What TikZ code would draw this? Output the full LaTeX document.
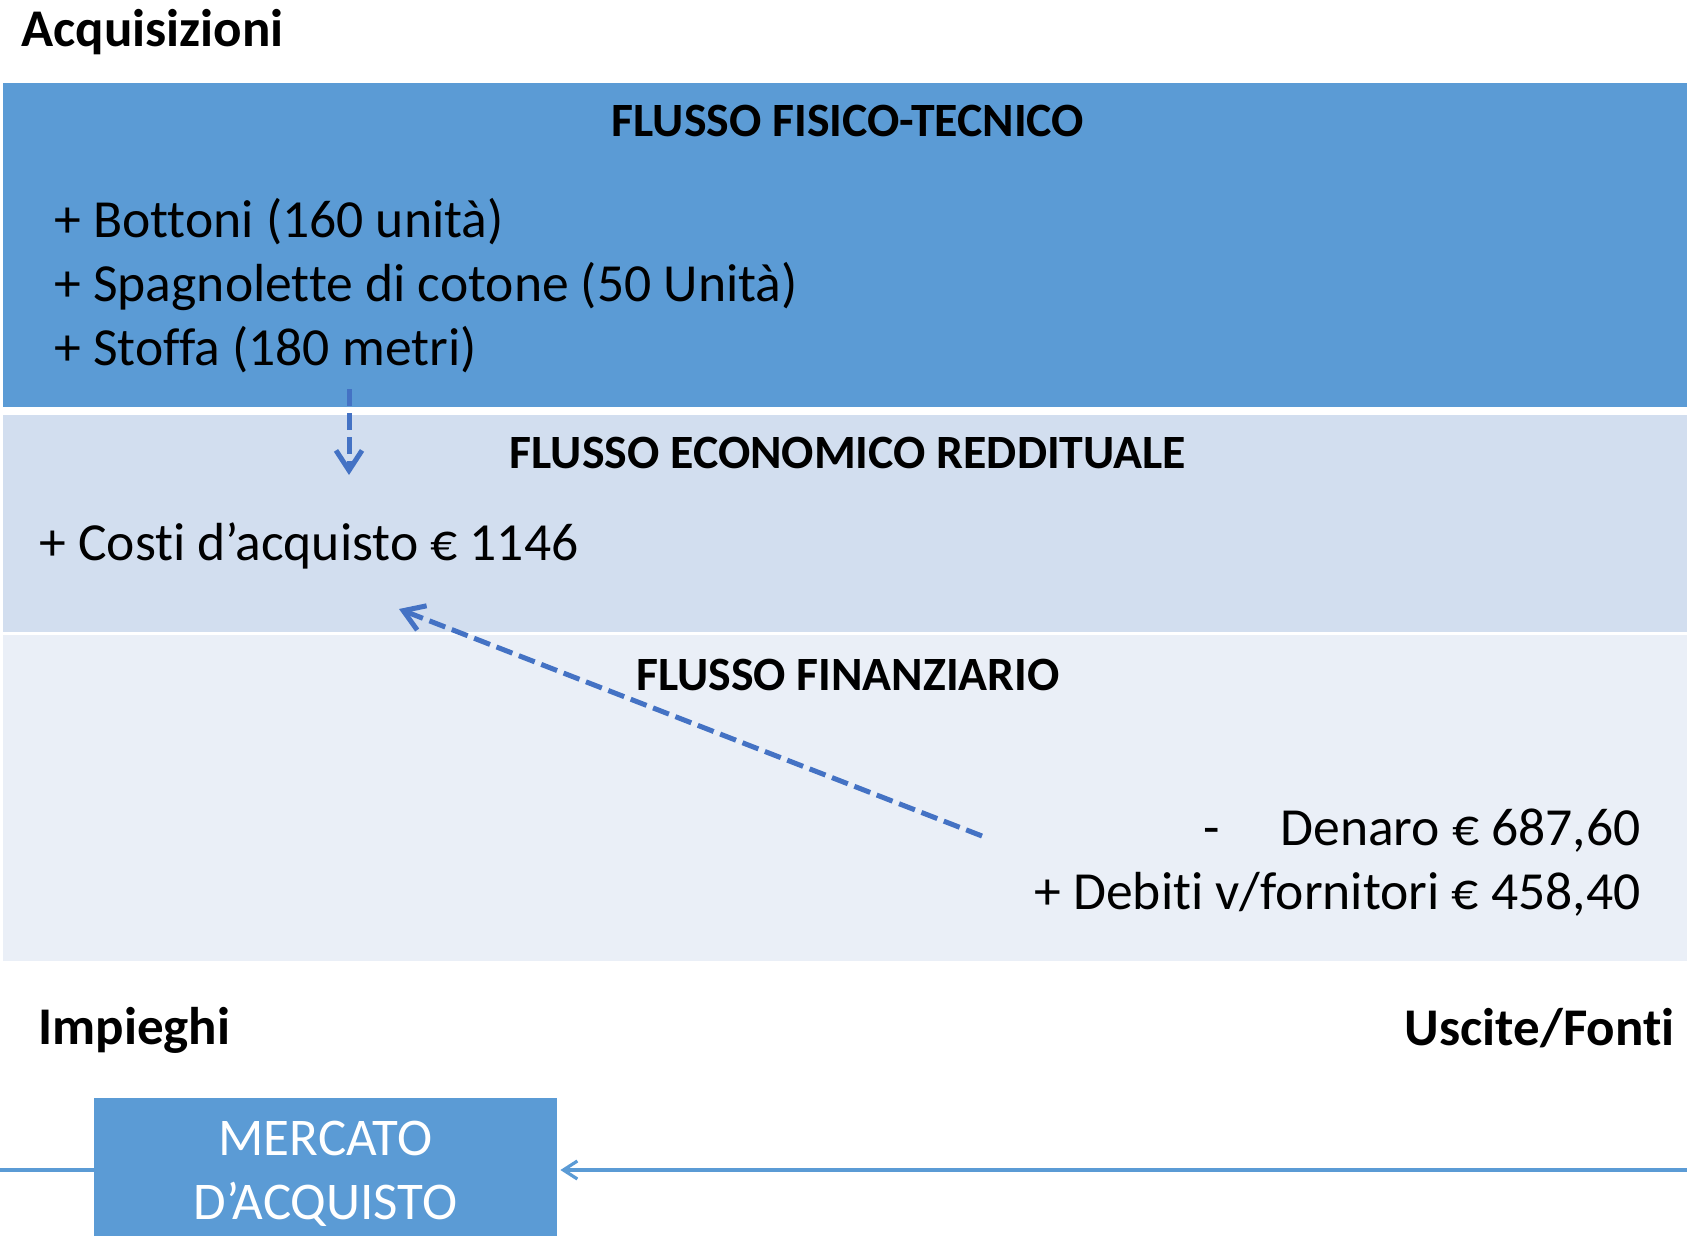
\documentclass[tikz,border=0pt]{standalone}
\usepackage{fontspec}
\setmainfont{Carlito}[Ligatures=NoCommon]
\usetikzlibrary{arrows.meta,positioning}
\definecolor{accentblue}{HTML}{5B9BD5}
\definecolor{bandmid}{HTML}{D2DEEF}
\definecolor{bandlight}{HTML}{EAEFF7}
\definecolor{arrowblue}{HTML}{4472C4}
\begin{document}
\begin{tikzpicture}[x=0.5pt, y=-0.5pt,
  body/.style={inner sep=0pt, font=\fontsize{26.8}{32}\selectfont},
  title/.style={inner sep=0pt, font=\fontsize{26.5}{32}\selectfont\bfseries},
  head/.style={inner sep=0pt, anchor=base, font=\fontsize{23.9}{28}\selectfont\bfseries},
  market/.style={fill=accentblue, text=white, inner sep=0pt, align=center, minimum width=231.5pt, minimum height=76pt, font=\fontsize{26.5}{32}\selectfont},
  flow/.style={draw=arrowblue, line width=2.5pt, dash pattern=on 8.5pt off 3.5pt, -{Straight Barb[length=10pt,width=13pt]}},
  market line/.style={draw=accentblue, line width=1.6pt}]
  \useasboundingbox (0,0) rectangle (1687,1236);
  \fill[accentblue] (3,83) rectangle (1687,407);
  \fill[bandmid] (3,415) rectangle (1687,632);
  \fill[bandlight] (3,635) rectangle (1687,961);

  \node[title, anchor=base west] (acquisizioni) at (21,47) {Acquisizioni};

  \node[head] (fisico) at (848,137) {FLUSSO FISICO-TECNICO};
  \node[body, anchor=base west] (bottoni) at (54,237) {+ Bottoni (160 unità)};
  \node[body] (spagnolette) [below=32pt of bottoni.base west, anchor=base west] {+ Spagnolette di cotone (50 Unità)};
  \node[body] (stoffa) [below=32pt of spagnolette.base west, anchor=base west] {+ Stoffa (180 metri)};

  \node[head] (economico) at (848,468) {FLUSSO ECONOMICO REDDITUALE};
  \node[body, anchor=base west] (costi) at (39,560) {+ Costi d’acquisto € 1146};

  \node[head] (finanziario) at (848,690) {FLUSSO FINANZIARIO};
  \node[body, anchor=base east] (denaro) at (1641,845) {-\hspace{1.13em}Denaro € 687,60};
  \node[body] (debiti) [below=32pt of denaro.base east, anchor=base east] {+ Debiti v/fornitori € 458,40};

  \node[title, anchor=base west] (impieghi) at (38,1044) {Impieghi};
  \node[title, anchor=base east] (uscite) at (1675,1045) {Uscite/Fonti};

  \node[market] (mercato) at (325.5,1174) {MERCATO\\D’ACQUISTO};
  \coordinate (left end) at (0,1170);
  \coordinate (right end) at (1687,1170);
  \draw[market line] (left end) -- (left end -| mercato.west);
  \draw[market line, -{Straight Barb[length=7pt,width=9pt]}, shorten >=1.5pt] (right end) -- (right end -| mercato.east);

  \coordinate (fisico out) at (349,389);
  \coordinate (economico in) at (349,475);
  \coordinate (finanziario out) at (982,836);
  \coordinate (costi in) at (399,609);
  \draw[flow] (fisico out) -- (economico in);
  \draw[flow] (finanziario out) -- (costi in);
\end{tikzpicture}
\end{document}
